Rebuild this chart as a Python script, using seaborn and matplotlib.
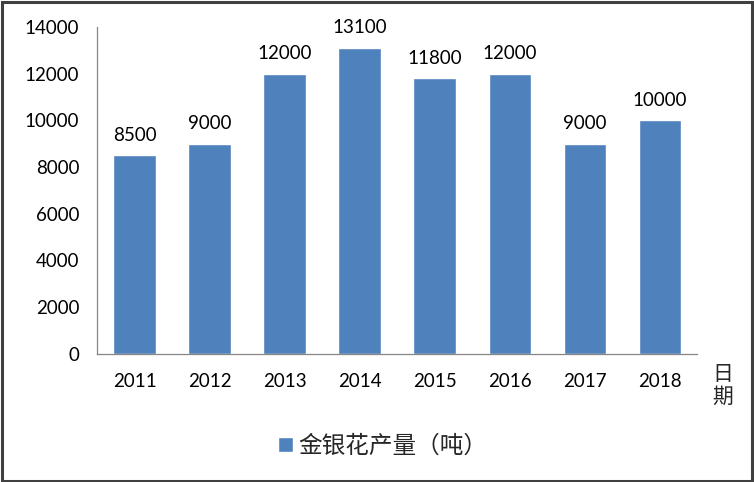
import matplotlib
matplotlib.use("Agg")
import matplotlib.pyplot as plt
from matplotlib.patches import Rectangle
import seaborn as sns
import pandas as pd

# data
years = ["2011", "2012", "2013", "2014", "2015", "2016", "2017", "2018"]
output_tons = [8500, 9000, 12000, 13100, 11800, 12000, 9000, 10000]
series_name = "金银花产量（吨）"
x_label = "日期"

df = pd.DataFrame({"year": years, "value": output_tons})

sns.set_style("white")
plt.rcParams["font.family"] = ["Lato", "Noto Sans CJK SC", "DejaVu Sans"]

fig = plt.figure(figsize=(7.54, 4.82), dpi=100)
ax = fig.add_axes([0.129, 0.266, 0.796, 0.678])

sns.barplot(data=df, x="year", y="value", color="#4F81BD", saturation=1,
            width=0.57, ax=ax, label=series_name)

for i, v in enumerate(output_tons):
    ax.text(i, v + 500, str(v), ha="center", va="bottom", fontsize=13.5,
            color="#000000")

ax.set_ylim(0, 14000)
ax.set_yticks(range(0, 14001, 2000))
ax.set_xlim(-0.5, 7.5)
ax.set_xlabel("")
ax.set_ylabel("")
ax.tick_params(axis="both", length=0, labelsize=13.5, colors="#000000")
ax.tick_params(axis="y", pad=13)
ax.tick_params(axis="x", pad=14)

for s in ["top", "right"]:
    ax.spines[s].set_visible(False)
for s in ["left", "bottom"]:
    ax.spines[s].set_color("#868686")
    ax.spines[s].set_linewidth(0.9)

# vertical x-axis title on the right
fig.text(0.958, 0.2, "\n".join(x_label), ha="center", va="center",
         fontsize=15, linespacing=1.05,
         family=["Noto Sans CJK SC", "DejaVu Sans"])

leg = ax.legend(loc="center", bbox_to_anchor=(0.508, 0.075),
                bbox_transform=fig.transFigure, frameon=False,
                prop={"family": ["Noto Sans CJK SC", "DejaVu Sans"],
                      "size": 17},
                handlelength=0.6, handleheight=0.6, handletextpad=0.25)

# outer frame of the picture
fig.patches.append(Rectangle((0.002, 0.003), 0.995, 0.993,
                             transform=fig.transFigure, fill=False,
                             edgecolor="#404040", linewidth=2.2))

fig.savefig("out.png", dpi=100)
